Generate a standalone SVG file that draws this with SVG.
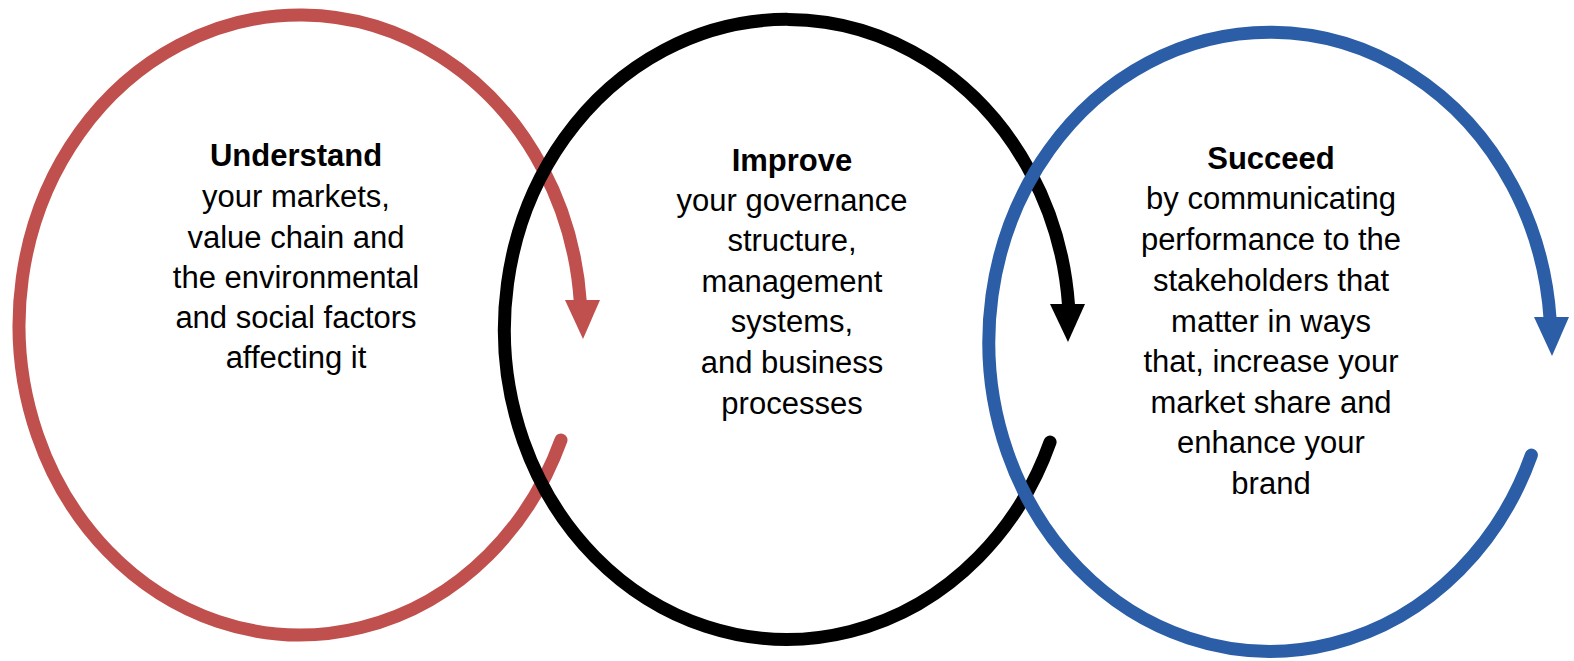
<svg xmlns="http://www.w3.org/2000/svg" width="1574" height="661" viewBox="0 0 1574 661">
<style>
.ring{fill:none;stroke-width:13;stroke-linecap:round}
.t{font-family:"Liberation Sans",Arial,sans-serif;font-size:31px;fill:#000;text-anchor:middle}
.b{font-weight:bold}
</style>
<rect width="1574" height="661" fill="#fff"/>
<g id="connectors">
  <g id="cycle-understand">
    <path class="ring" stroke="#C0504D" d="M 561 440 A 281 310 0 1 1 580.3 302"/>
    <polygon fill="#C0504D" points="565,300 600,300 583,339"/>
  </g>
  <g id="cycle-improve">
    <path class="ring" stroke="#000000" stroke-width="14" d="M 1050.1 442 A 282.5 310 0 1 1 1068.6 306"/>
    <polygon fill="#000000" points="1050,304 1085,304 1068,342"/>
  </g>
  <g id="cycle-succeed">
    <path class="ring" stroke="#2B5EA7" d="M 1531.4 455 A 281 309.5 0 1 1 1550.1 319"/>
    <polygon fill="#2B5EA7" points="1534,317 1569,317 1552,356"/>
  </g>
</g>
<g id="node-understand">
  <text class="t b" x="296" y="166">Understand</text>
  <text class="t" x="296" y="207">your markets,</text>
  <text class="t" x="296" y="248">value chain and</text>
  <text class="t" x="296" y="288">the environmental</text>
  <text class="t" x="296" y="328">and social factors</text>
  <text class="t" x="296" y="368">affecting it</text>
</g>
<g id="node-improve">
  <text class="t b" x="792" y="171">Improve</text>
  <text class="t" x="792" y="211">your governance</text>
  <text class="t" x="792" y="251">structure,</text>
  <text class="t" x="792" y="292">management</text>
  <text class="t" x="792" y="332">systems,</text>
  <text class="t" x="792" y="373">and business</text>
  <text class="t" x="792" y="414">processes</text>
</g>
<g id="node-succeed">
  <text class="t b" x="1271" y="169">Succeed</text>
  <text class="t" x="1271" y="209">by communicating</text>
  <text class="t" x="1271" y="250">performance to the</text>
  <text class="t" x="1271" y="291">stakeholders that</text>
  <text class="t" x="1271" y="332">matter in ways</text>
  <text class="t" x="1271" y="372">that, increase your</text>
  <text class="t" x="1271" y="413">market share and</text>
  <text class="t" x="1271" y="453">enhance your</text>
  <text class="t" x="1271" y="494">brand</text>
</g>
</svg>
